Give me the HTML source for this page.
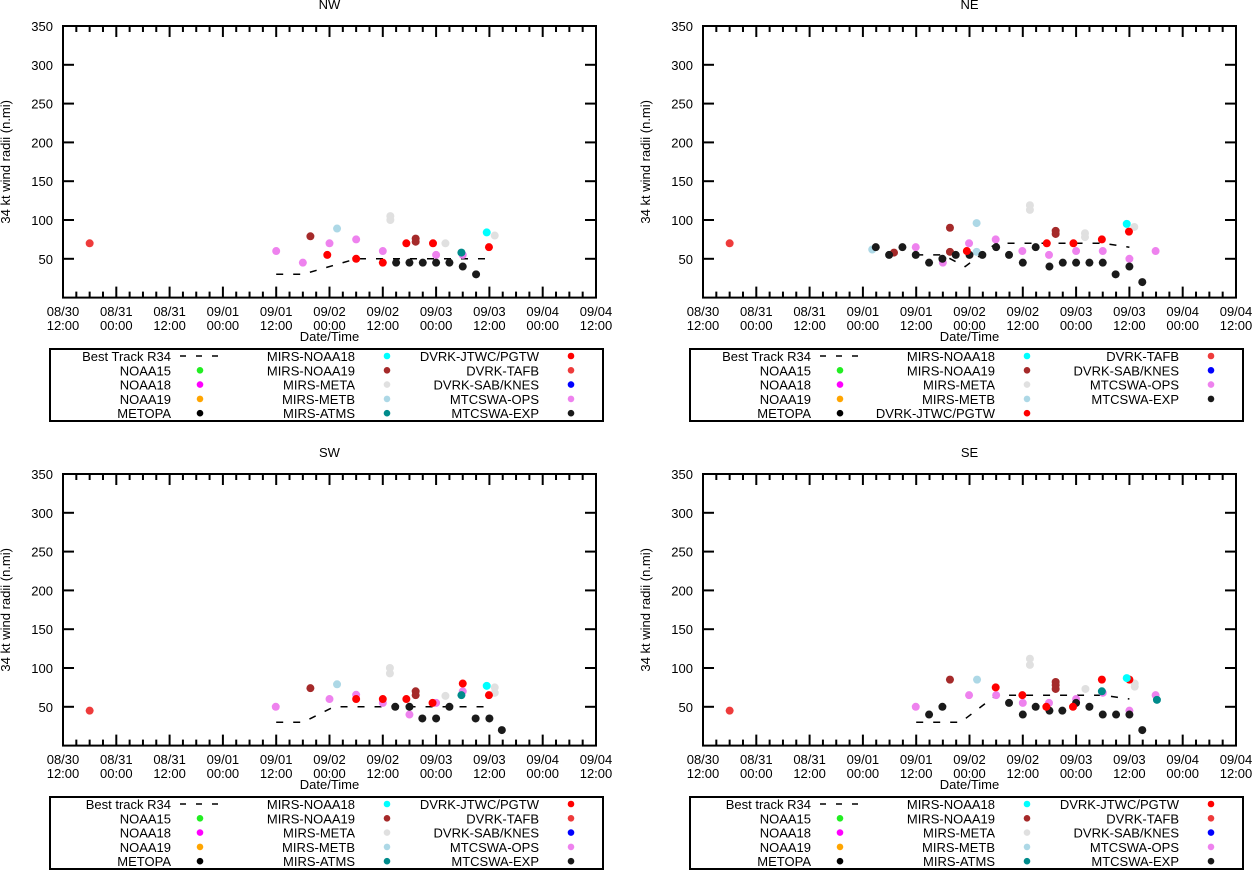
<!DOCTYPE html>
<html><head><meta charset="utf-8"><style>
html,body{margin:0;padding:0;background:#fff;}
svg{display:block;font-family:"Liberation Sans",sans-serif;}
</style></head><body>
<svg id="chart" width="1253" height="870" viewBox="0 0 1253 870" xmlns="http://www.w3.org/2000/svg"></svg>
<script>
// ---- data: [hours since 08/30 12:00, radius n.mi] ----
const xTickTop = ["08/30","08/31","08/31","09/01","09/01","09/02","09/02","09/03","09/03","09/04","09/04"];
const xTickBot = ["12:00","00:00","12:00","00:00","12:00","00:00","12:00","00:00","12:00","00:00","12:00"];
const yTicks = [50,100,150,200,250,300,350];

const nwBest = [[48,30],[54,30],[66,50],[96,50]];
const nwJtwc = [[59.5,55],[66,50],[72,45],[77.3,70],[83.3,70],[95.9,65]];
const nwTafb = [[6,70]];
const nwOps = [[48,60],[54,45],[60,70],[66,75],[72,60],[84,55],[90,55]];
const nwExp = [[75,45],[78,45],[81,45],[84,45],[87,45],[90,40],[93,30]];
const nwN19 = [[55.7,79],[79.4,72],[79.4,76]];
const nwMeta = [[73.7,100],[73.7,105],[86.1,70],[97.2,80]];
const nwMetb = [[61.7,89]];
const nwN18 = [[95.4,84]];
const nwAtms = [[89.7,58]];

const neBest = [[48,55],[54,55],[59,40],[66,70],[90,70],[96,65]];
const neJtwc = [[59.4,60],[77.4,70],[83.4,70],[89.8,75],[95.9,85]];
const neTafb = [[6,70]];
const neOps = [[47.9,65],[54,45],[59.9,70],[65.9,75],[71.9,60],[77.9,55],[84,60],[90,60],[96,50],[101.9,60]];
const neExp = [[38.9,65],[41.9,55],[44.9,65],[47.9,55],[50.9,45],[53.9,50],[56.9,55],[60,55],[62.9,55],[66,65],[68.9,55],[72,45],[74.9,65],[78,40],[81,45],[84,45],[87,45],[90,45],[92.9,30],[96,40],[98.9,20]];
const neN19 = [[43,58],[55.6,90],[55.6,59],[79.4,86],[79.4,82]];
const neMeta = [[73.6,119],[73.6,113],[86,83],[86,78],[97.1,91]];
const neMetb = [[38.1,62],[61.6,96],[61.6,59]];
const neN18 = [[95.4,95]];
const neAtms = [];

const swBest = [[48,30],[54,30],[61,50],[96,50]];
const swJtwc = [[66,60],[72,60],[77.3,60],[83.2,55],[90,80],[95.9,65]];
const swTafb = [[6,45]];
const swOps = [[47.9,50],[60,60],[66,65.5],[72,55],[78,40],[84,55],[90,70]];
const swExp = [[74.8,50],[78,50],[80.9,35],[84,35],[87,50],[92.9,35],[96,35],[98.8,20]];
const swN19 = [[55.7,74],[79.4,70],[79.4,65]];
const swMeta = [[73.6,100],[73.6,93],[86.1,64],[97.2,75],[97.2,68]];
const swMetb = [[61.7,79]];
const swN18 = [[95.4,77]];
const swAtms = [[89.7,65]];

const seBest = [[48,30],[58,30],[66,65],[90,65],[96,60]];
const seJtwc = [[65.9,75],[71.9,65],[77.3,50],[83.3,50],[89.8,85],[96,85]];
const seTafb = [[6,45]];
const seOps = [[47.9,50],[59.9,65],[66,65],[72,55],[77.9,55],[84,60],[90,68],[96,45],[101.9,65]];
const seExp = [[50.9,40],[53.9,50],[68.9,55],[72,40],[74.9,50],[78,45],[80.9,45],[84,55],[87,50],[90,40],[93,40],[96,40],[98.9,20]];
const seN19 = [[55.6,85],[79.4,82],[79.4,78],[79.4,73]];
const seMeta = [[73.6,112],[73.6,104],[86.1,73],[97.2,80],[97.2,76]];
const seMetb = [[61.7,85]];
const seN18 = [[95.4,87]];
const seAtms = [[89.8,70],[102.2,59]];

const COL = {jtwc:"#ff0000",tafb:"#ee3b3b",ops:"#ee82ee",exp:"#1a1a1a",n19:"#a52a2a",meta:"#e0e0e0",metb:"#add8e6",n18:"#00ffff",atms:"#008b8b",n15:"#22ee22",noaa18:"#ff00ff",noaa19:"#ffa500",metopa:"#000000",sab:"#0000ff"};

const NS="http://www.w3.org/2000/svg";
const svg=document.getElementById('chart');
function mk(tag,attrs,parent){const e=document.createElementNS(NS,tag);for(const k in attrs)e.setAttribute(k,attrs[k]);(parent||svg).appendChild(e);return e;}

function panel(cfg){
  const x0=cfg.ox+63,x1=cfg.ox+596,y0=cfg.oy+26,y1=cfg.oy+297.6;
  const xs=t=>x0+(t/120)*(x1-x0);
  const ys=v=>y1-(v/350)*(y1-y0);
  const g=mk('g',{});
  
  
  const tt=mk('text',{x:(x0+x1)/2,y:cfg.oy+9,'font-size':13,'text-anchor':'middle'},g);
  tt.textContent=cfg.title;
  
  
  for(let i=0;i<=40;i++){
    const x=x0+i*(x1-x0)/40;const L=(i%4===0)?11:6;
    mk('line',{x1:x,y1:y1,x2:x,y2:y1-L,stroke:'#000','stroke-width':2},g);
    mk('line',{x1:x,y1:y0,x2:x,y2:y0+L,stroke:'#000','stroke-width':2},g);
  }
  for(let i=0;i<xTickTop.length;i++){
    const x=x0+i*(x1-x0)/10;
    const a=mk('text',{x:x,y:cfg.oy+316,'font-size':13,'text-anchor':'middle'},g);a.textContent=xTickTop[i];
    
    
    const b=mk('text',{x:x,y:cfg.oy+330,'font-size':13,'text-anchor':'middle'},g);b.textContent=xTickBot[i];
    
    
  }
  yTicks.forEach(v=>{
    const y=ys(v);
    mk('line',{x1:x0,y1:y,x2:x0+11,y2:y,stroke:'#000','stroke-width':2},g);
    mk('line',{x1:x1,y1:y,x2:x1-11,y2:y,stroke:'#000','stroke-width':2},g);
    const l=mk('text',{x:x0-10,y:y+5,'font-size':13,'text-anchor':'end'},g);l.textContent=v;
    
    
  });
  mk('rect',{x:x0,y:y0,width:x1-x0,height:y1-y0,fill:'none',stroke:'#000','stroke-width':2},g);
  const xt=mk('text',{x:(x0+x1)/2,y:cfg.oy+341,'font-size':13,'text-anchor':'middle'},g);xt.textContent='Date/Time';
  
  
  const yt=mk('text',{x:0,y:0,'font-size':13,'text-anchor':'middle',transform:`translate(${cfg.ox+10},${(y0+y1)/2}) rotate(-90)`},g);yt.textContent='34 kt wind radii (n.mi)';
  
  
  const bt=mk('path',{d:cfg.best.map((p,i)=>(i?'L':'M')+xs(p[0]).toFixed(1)+','+ys(p[1]).toFixed(1)).join(''),fill:'none',stroke:'#000','stroke-width':1.5,'stroke-dasharray':'7,10'},g);
  
  
  const order=[['meta',cfg.meta],['metb',cfg.metb],['n19',cfg.n19],['ops',cfg.ops],['exp',cfg.exp],['tafb',cfg.tafb],['jtwc',cfg.jtwc],['atms',cfg.atms],['n18',cfg.n18]];
  order.forEach(([k,arr])=>arr.forEach(p=>{
    const c=mk('circle',{cx:xs(p[0]),cy:ys(p[1]),r:4,fill:COL[k]},g);
    
    
  }));
  const lx=cfg.ox+50,ly=cfg.oy+349;
  const lr=mk('rect',{x:lx,y:ly,width:553,height:72,fill:'none',stroke:'#000','stroke-width':2},g);
  
  
  const cols=[[lx+121,lx+150],[lx+305,lx+337],[lx+489,lx+521]];
  cfg.legend.forEach((col,ci)=>col.forEach((it,ri)=>{
    const y=ly+7+ri*14.3;
    const t=mk('text',{x:cols[ci][0],y:y+5,'font-size':13,'text-anchor':'end'},g);t.textContent=it[0];
    
    
    if(it[1]==='best'){mk('line',{x1:cols[ci][0]+9,y1:y,x2:cols[ci][0]+47,y2:y,stroke:'#000','stroke-width':1.5,'stroke-dasharray':'6,10'},g);}
    else mk('circle',{cx:cols[ci][1],cy:y,r:3.3,fill:COL[it[1]]},g);
  }));
}

function stdLegend(bt){return [
  [[bt,'best'],['NOAA15','n15'],['NOAA18','noaa18'],['NOAA19','noaa19'],['METOPA','metopa']],
  [['MIRS-NOAA18','n18'],['MIRS-NOAA19','n19'],['MIRS-META','meta'],['MIRS-METB','metb'],['MIRS-ATMS','atms']],
  [['DVRK-JTWC/PGTW','jtwc'],['DVRK-TAFB','tafb'],['DVRK-SAB/KNES','sab'],['MTCSWA-OPS','ops'],['MTCSWA-EXP','exp']]];}
const neLegend=[
  [['Best Track R34','best'],['NOAA15','n15'],['NOAA18','noaa18'],['NOAA19','noaa19'],['METOPA','metopa']],
  [['MIRS-NOAA18','n18'],['MIRS-NOAA19','n19'],['MIRS-META','meta'],['MIRS-METB','metb'],['DVRK-JTWC/PGTW','jtwc']],
  [['DVRK-TAFB','tafb'],['DVRK-SAB/KNES','sab'],['MTCSWA-OPS','ops'],['MTCSWA-EXP','exp']]];

panel({key:'nw',title:'NW',ox:0,oy:0,best:nwBest,jtwc:nwJtwc,tafb:nwTafb,ops:nwOps,exp:nwExp,n19:nwN19,meta:nwMeta,metb:nwMetb,n18:nwN18,atms:nwAtms,legend:stdLegend('Best Track R34')});
panel({key:'ne',title:'NE',ox:640,oy:0,best:neBest,jtwc:neJtwc,tafb:neTafb,ops:neOps,exp:neExp,n19:neN19,meta:neMeta,metb:neMetb,n18:neN18,atms:neAtms,legend:neLegend});
panel({key:'sw',title:'SW',ox:0,oy:448,best:swBest,jtwc:swJtwc,tafb:swTafb,ops:swOps,exp:swExp,n19:swN19,meta:swMeta,metb:swMetb,n18:swN18,atms:swAtms,legend:stdLegend('Best track R34')});
panel({key:'se',title:'SE',ox:640,oy:448,best:seBest,jtwc:seJtwc,tafb:seTafb,ops:seOps,exp:seExp,n19:seN19,meta:seMeta,metb:seMetb,n18:seN18,atms:seAtms,legend:stdLegend('Best track R34')});
</script>
</body></html>
